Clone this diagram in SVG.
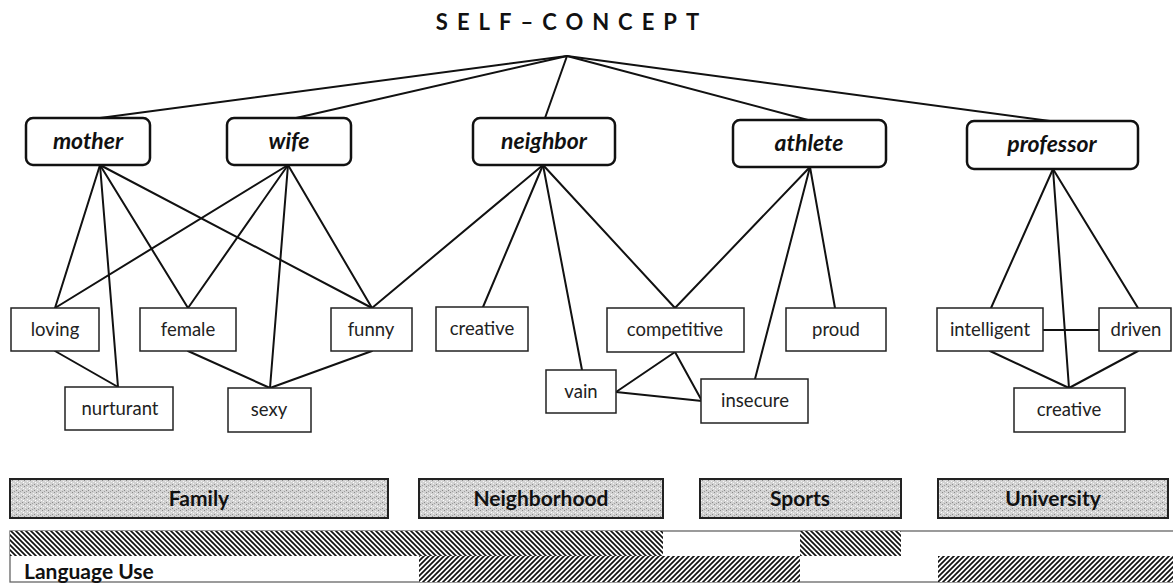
<svg xmlns="http://www.w3.org/2000/svg" width="1173" height="585" viewBox="0 0 1173 585">
<defs>
<pattern id="stip" patternUnits="userSpaceOnUse" width="6" height="6">
<rect width="6" height="6" fill="#d2d2d2"/>
<rect x="0" y="0" width="1" height="1" fill="#8a8a8a"/>
<rect x="3" y="1" width="1" height="1" fill="#f4f4f4"/>
<rect x="1" y="3" width="1" height="1" fill="#f4f4f4"/>
<rect x="4" y="4" width="1" height="1" fill="#8a8a8a"/>
<rect x="2" y="5" width="1" height="1" fill="#a0a0a0"/>
<rect x="5" y="2" width="1" height="1" fill="#ffffff"/>
</pattern>
<pattern id="hBack" patternUnits="userSpaceOnUse" width="5" height="5">
<rect width="5" height="5" fill="#fff"/>
<path d="M0,0 L5,5 M-1,4 L1,6 M4,-1 L6,1" stroke="#111" stroke-width="1.7"/>
</pattern>
<pattern id="hFwd" patternUnits="userSpaceOnUse" width="5" height="5">
<rect width="5" height="5" fill="#fff"/>
<path d="M0,5 L5,0 M-1,1 L1,-1 M4,6 L6,4" stroke="#111" stroke-width="1.7"/>
</pattern>
</defs>
<style>
.role rect{fill:#fff;stroke:#111;stroke-width:2.5}
.role text{font-family:Lato,"Open Sans",sans-serif;font-weight:bold;font-style:italic;font-size:23px;text-anchor:middle;fill:#111}
.trait rect{fill:#fff;stroke:#222;stroke-width:1.5}
.trait text{font-family:Lato,"Open Sans",sans-serif;font-size:18.5px;text-anchor:middle;fill:#222}
.ctx rect{fill:url(#stip);stroke:#222;stroke-width:2}
.ctx text{font-family:Lato,"Open Sans",sans-serif;font-weight:bold;font-size:21px;text-anchor:middle;fill:#111}
.edges line{stroke:#111;stroke-width:2;stroke-linecap:round}
.title{font-family:Lato,"Open Sans",sans-serif;font-weight:bold;font-size:22px;letter-spacing:9px;fill:#111}
</style>
<rect width="1173" height="585" fill="#fff"/>
<text class="title" x="572" y="30" text-anchor="middle">SELF–CONCEPT</text>

<g id="connectors" class="edges">
<line x1="567" y1="56" x2="100" y2="118"/>
<line x1="567" y1="56" x2="296" y2="118"/>
<line x1="567" y1="56" x2="545" y2="118"/>
<line x1="567" y1="56" x2="808" y2="120"/>
<line x1="567" y1="56" x2="1050" y2="121"/>
<line x1="100" y1="165" x2="55" y2="308"/>
<line x1="100" y1="165" x2="118" y2="387"/>
<line x1="100" y1="165" x2="188" y2="308"/>
<line x1="100" y1="165" x2="372" y2="308"/>
<line x1="288" y1="165" x2="55" y2="308"/>
<line x1="288" y1="165" x2="188" y2="308"/>
<line x1="288" y1="165" x2="270" y2="388"/>
<line x1="288" y1="165" x2="372" y2="308"/>
<line x1="543" y1="165" x2="372" y2="308"/>
<line x1="543" y1="165" x2="483" y2="307"/>
<line x1="543" y1="165" x2="582" y2="370"/>
<line x1="543" y1="165" x2="675" y2="308"/>
<line x1="810" y1="167" x2="675" y2="308"/>
<line x1="810" y1="167" x2="755" y2="379"/>
<line x1="810" y1="167" x2="835" y2="308"/>
<line x1="1053" y1="169" x2="991" y2="308"/>
<line x1="1053" y1="169" x2="1069" y2="388"/>
<line x1="1053" y1="169" x2="1138" y2="308"/>
<line x1="55" y1="351" x2="118" y2="387"/>
<line x1="188" y1="351" x2="270" y2="388"/>
<line x1="372" y1="351" x2="270" y2="388"/>
<line x1="675" y1="352" x2="616" y2="392"/>
<line x1="675" y1="352" x2="702" y2="401"/>
<line x1="616" y1="392" x2="702" y2="401"/>
<line x1="1043" y1="330" x2="1099" y2="330"/>
<line x1="990" y1="351" x2="1069" y2="388"/>
<line x1="1138" y1="351" x2="1069" y2="388"/>
</g>

<g id="mother" class="role"><rect x="26" y="118" width="124" height="47" rx="7"/><text x="88" y="149">mother</text></g>
<g id="wife" class="role"><rect x="227" y="118" width="124" height="47" rx="7"/><text x="289" y="149">wife</text></g>
<g id="neighbor" class="role"><rect x="473" y="118" width="142" height="47" rx="7"/><text x="544" y="149">neighbor</text></g>
<g id="athlete" class="role"><rect x="733" y="120" width="153" height="47" rx="7"/><text x="809" y="151">athlete</text></g>
<g id="professor" class="role"><rect x="967" y="121" width="171" height="48" rx="7"/><text x="1052" y="152">professor</text></g>

<g id="loving" class="trait"><rect x="11" y="308" width="88" height="43"/><text x="55" y="336">loving</text></g>
<g id="female" class="trait"><rect x="140" y="308" width="96" height="43"/><text x="188" y="336">female</text></g>
<g id="funny" class="trait"><rect x="331" y="308" width="81" height="43"/><text x="371" y="336">funny</text></g>
<g id="nurturant" class="trait"><rect x="65" y="387" width="108" height="43"/><text x="120" y="415">nurturant</text></g>
<g id="sexy" class="trait"><rect x="228" y="388" width="83" height="44"/><text x="269" y="416">sexy</text></g>
<g id="creative-neighbor" class="trait"><rect x="436" y="307" width="92" height="44"/><text x="482" y="335">creative</text></g>
<g id="vain" class="trait"><rect x="546" y="370" width="70" height="43"/><text x="581" y="398">vain</text></g>
<g id="competitive" class="trait"><rect x="607" y="308" width="137" height="44"/><text x="675" y="336">competitive</text></g>
<g id="insecure" class="trait"><rect x="701" y="379" width="107" height="44"/><text x="755" y="407">insecure</text></g>
<g id="proud" class="trait"><rect x="786" y="308" width="100" height="43"/><text x="836" y="336">proud</text></g>
<g id="intelligent" class="trait"><rect x="937" y="308" width="106" height="43"/><text x="990" y="336">intelligent</text></g>
<g id="driven" class="trait"><rect x="1099" y="308" width="72" height="43"/><text x="1136" y="336">driven</text></g>
<g id="creative-professor" class="trait"><rect x="1014" y="388" width="111" height="44"/><text x="1069" y="416">creative</text></g>

<g id="family" class="ctx"><rect x="10" y="479" width="378" height="39"/><text x="199" y="506">Family</text></g>
<g id="neighborhood" class="ctx"><rect x="419" y="479" width="244" height="39"/><text x="541" y="506">Neighborhood</text></g>
<g id="sports" class="ctx"><rect x="700" y="479" width="201" height="39"/><text x="800" y="506">Sports</text></g>
<g id="university" class="ctx"><rect x="938" y="479" width="230" height="39"/><text x="1053" y="506">University</text></g>

<g id="language-use">
<rect x="10" y="531" width="1170" height="51" fill="#fff" stroke="#666" stroke-width="1.3"/>
<rect x="10" y="531" width="653" height="25" fill="url(#hBack)"/>
<rect x="800" y="531" width="101" height="25" fill="url(#hBack)"/>
<rect x="419" y="556" width="381" height="26" fill="url(#hFwd)"/>
<rect x="938" y="556" width="240" height="26" fill="url(#hFwd)"/>
<text x="24" y="579" font-family="Lato, Open Sans, sans-serif" font-weight="bold" font-size="21" fill="#111">Language Use</text>
</g>
</svg>
